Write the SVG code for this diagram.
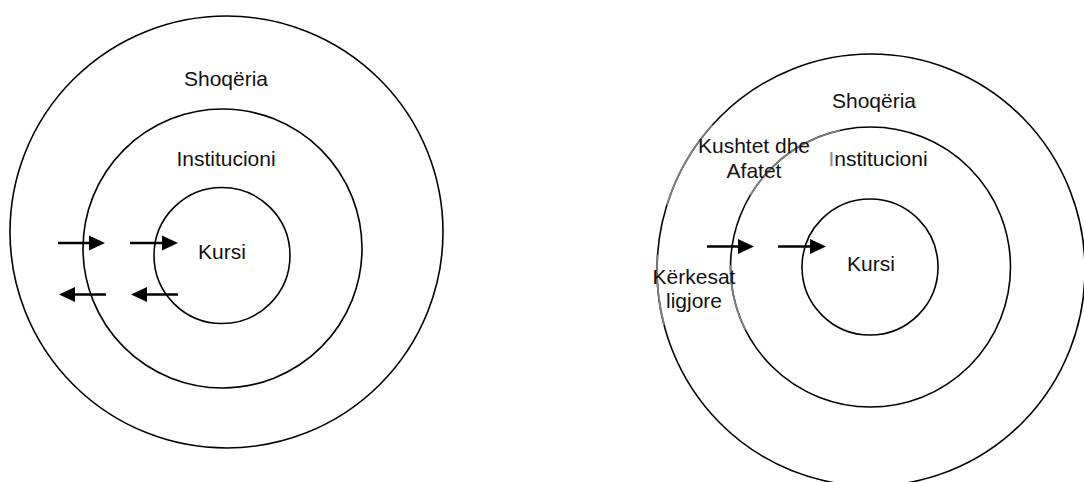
<svg xmlns="http://www.w3.org/2000/svg" width="1084" height="482" viewBox="0 0 1084 482">
  <style>
    .ring { fill: none; stroke: #000; stroke-width: 1.6; }
    .ring-grey { fill: none; stroke: #7f7f7f; stroke-width: 1.8; }
    .label { font-family: "Liberation Sans", Arial, sans-serif; font-size: 21px; fill: #111; text-anchor: middle; }
    .shaft { stroke: #000; stroke-width: 2.3; fill: none; }
    .tip { fill: #000; stroke: none; }
  </style>

  <rect width="1084" height="482" fill="#fff"/>

  <!-- Left model: society / institution / course -->
  <g id="left-society">
    <ellipse class="ring" cx="226.5" cy="232" rx="216.5" ry="216"/>
    <text class="label" x="226" y="86">Shoqëria</text>
  </g>
  <g id="left-institution">
    <circle class="ring" cx="222.5" cy="248.5" r="139.5"/>
    <text class="label" x="226" y="166">Institucioni</text>
  </g>
  <g id="left-course">
    <circle class="ring" cx="222" cy="255.5" r="68"/>
    <text class="label" x="222" y="259">Kursi</text>
  </g>

  <!-- Right model -->
  <g id="right-society">
    <ellipse class="ring" cx="871" cy="270" rx="214" ry="216"/>
    <path class="ring-grey" d="M712.4,125 A214,216 0 0 0 666.9,205"/>
    <path class="ring-grey" d="M657.5,255 A214,216 0 0 0 664.1,325"/>
    <text class="label" x="874" y="108">Shoqëria</text>
  </g>
  <g id="right-institution">
    <circle class="ring" cx="870.5" cy="267" r="140"/>
    <path class="ring-grey" d="M840,130.4 A140,140 0 0 0 750.4,195"/>
    <path class="ring-grey" d="M730.5,265 A140,140 0 0 0 745.5,330"/>
    <text class="label" x="878" y="166"><tspan fill="#8a8a8a">I</tspan>nstitucioni</text>
  </g>
  <g id="right-course">
    <circle class="ring" cx="870" cy="267" r="68"/>
    <text class="label" x="871" y="271">Kursi</text>
  </g>
  <g id="right-terms">
    <text class="label" x="754" y="153">Kushtet dhe</text>
    <text class="label" x="754" y="177.5">Afatet</text>
  </g>
  <g id="right-legal">
    <text class="label" x="694" y="284">Kërkesat</text>
    <text class="label" x="694" y="308">ligjore</text>
  </g>

  <!-- Connectors -->
  <g id="connectors">
    <!-- left model, inward -->
    <line class="shaft" x1="58" y1="243" x2="92" y2="243"/>
    <polygon class="tip" points="89,235.5 105,243 89,250.5"/>
    <line class="shaft" x1="130" y1="243" x2="164" y2="243"/>
    <polygon class="tip" points="162,235.5 178,243 162,250.5"/>
    <!-- left model, outward -->
    <line class="shaft" x1="106" y1="294.5" x2="72" y2="294.5"/>
    <polygon class="tip" points="75,287 59,294.5 75,302"/>
    <line class="shaft" x1="178" y1="294.5" x2="144" y2="294.5"/>
    <polygon class="tip" points="147,287 131,294.5 147,302"/>
    <!-- right model, inward -->
    <line class="shaft" x1="707" y1="246.5" x2="740" y2="246.5"/>
    <polygon class="tip" points="738,239 754,246.5 738,254"/>
    <line class="shaft" x1="778" y1="246.5" x2="812" y2="246.5"/>
    <polygon class="tip" points="810,239 826,246.5 810,254"/>
  </g>
</svg>
